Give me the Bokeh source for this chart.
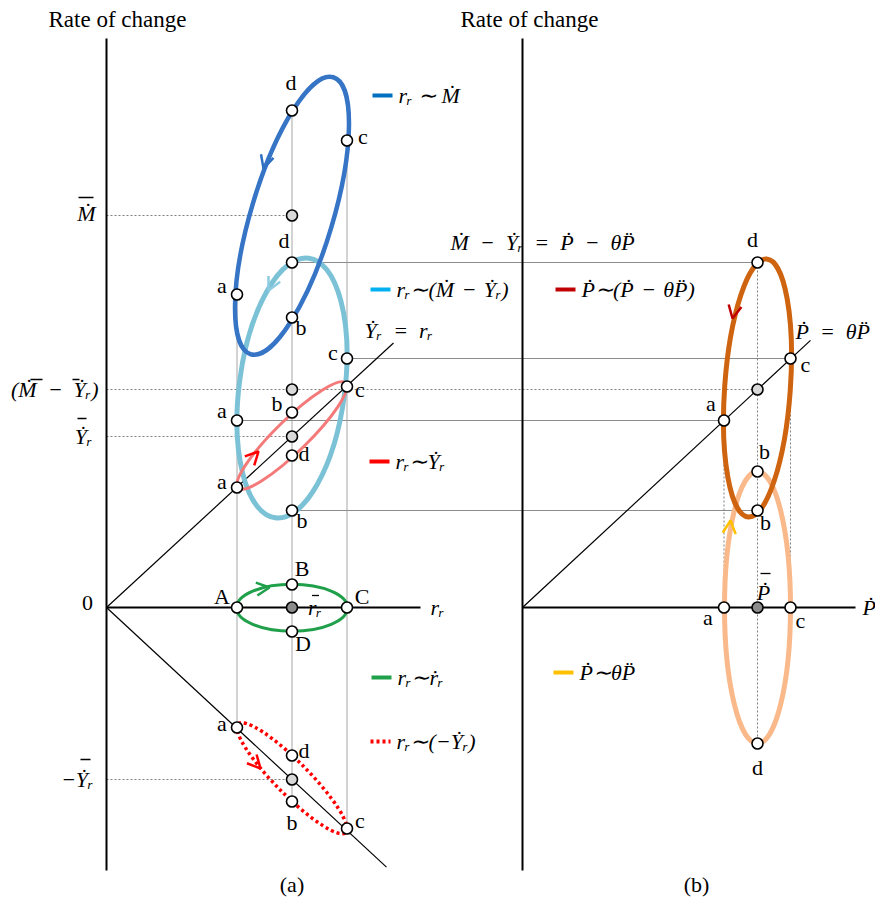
import numpy as np
from bokeh.plotting import figure
from bokeh.models import Range1d, Arrow, OpenHead
from bokeh.core.properties import value
from bokeh.embed import file_html
from bokeh.resources import INLINE

# ---------------------------------------------------------------------------
# Values. x: r_r in panel (a), P-dot in panel (b); y: rate of change.
# Phases of every loop are listed in the order a, b, c, d.
# ---------------------------------------------------------------------------
r_low, r_bar, r_high = 130.5, 185.5, 240.5          # r_r at a / mean / c
p_low, p_bar, p_high = 201.5, 235.0, 268.0          # P-dot at a / mean / c

M_bar = 392          # mean of M-dot
MY_bar = 218         # mean of (M-dot - Y-dot_r)
Y_bar = 171          # mean of Y-dot_r
negY_bar = -172      # mean of -Y-dot_r

M_dot = [313, 290, 467, 497]        # r_r ~ M-dot
MY_dot = [187, 97, 249, 345]        # r_r ~ (M-dot - Y-dot_r)
Y_dot = [120, 195, 221, 152]        # r_r ~ Y-dot_r
r_dot = [0, 23, 0, -24]             # r_r ~ r-dot_r   (A, B, C, D)
negY_dot = [-120, -194, -221, -148] # r_r ~ (-Y-dot_r)
P_gap = [187, 97, 249, 345]         # P-dot ~ (P-dot - theta P-ddot)
theta_P = [0, 136, 0, -136]         # P-dot ~ theta P-ddot

PHASE_R = [r_low, r_bar, r_high, r_bar]
PHASE_P = [p_low, p_bar, p_high, p_bar]

# ---------------------------------------------------------------------------
# Layout / styling
# ---------------------------------------------------------------------------
XB = 416                 # horizontal offset of panel (b)
AX_TOP, AX_BOT = 569, -263
MATH = "Liberation Serif"
SERIF = "Liberation Serif"
SP = "\u2002"            # wide space around operators
MINUS = SP + "\u2212" + SP
SP3 = "\u2004"           # narrower space used in the legends
MINUS3 = SP3 + "\u2212" + SP3

p = figure(width=875, height=900, x_range=Range1d(-106, 769), y_range=Range1d(-293, 607),
           output_backend="svg", toolbar_location=None, min_border=0)
p.axis.visible = False
p.grid.visible = False
p.outline_line_color = None
p.background_fill_color = "white"
p.border_fill_color = "white"

pb = [XB + v for v in PHASE_P]

# thin solid gray guides (panel a verticals)
p.segment(x0=[r_low, r_bar, r_high], y0=[M_dot[0], M_dot[3], M_dot[2]],
          x1=[r_low, r_bar, r_high], y1=[negY_dot[0], negY_dot[1], negY_dot[2]],
          line_color="#A6A6A6", line_width=1)
# horizontal links from (M-dot - Y-dot_r) to (P-dot - theta P-ddot)
p.segment(x0=PHASE_R, y0=MY_dot, x1=pb, y1=P_gap, line_color="#8C8C8C", line_width=1)

# dotted guides
p.segment(x0=[0, 0, 0, 0], y0=[M_bar, MY_bar, Y_bar, negY_bar],
          x1=[r_bar, XB + p_bar, r_bar, r_bar], y1=[M_bar, MY_bar, Y_bar, negY_bar],
          line_color="#7F7F7F", line_width=1, line_dash="2 2")
p.segment(x0=[XB + p_low, XB + p_bar, XB + p_high], y0=[P_gap[0], P_gap[3], P_gap[2]],
          x1=[XB + p_low, XB + p_bar, XB + p_high], y1=[theta_P[0], theta_P[3], theta_P[2]],
          line_color="#7F7F7F", line_width=1, line_dash="2 2")

# axes
p.segment(x0=[0, XB], y0=[AX_TOP, AX_TOP], x1=[0, XB], y1=[AX_BOT, AX_BOT],
          line_color="black", line_width=2)
p.segment(x0=[0, XB], y0=[0, 0], x1=[314, XB + 333], y1=[0, 0],
          line_color="black", line_width=2)
# 45-degree reference lines
k_a = Y_bar / r_bar
k_n = negY_bar / r_bar
k_b = MY_bar / p_bar
p.segment(x0=[0, 0, XB], y0=[0, 0, 0], x1=[287, 280, XB + 288],
          y1=[287 * k_a, 280 * k_n, 288 * k_b], line_color="black", line_width=1.2)

# ---------------------------------------------------------------------------
# Loops: half-width, half-height and covariance of each ellipse
# ---------------------------------------------------------------------------
def ellipse_shape(w, h, cov):
    vals, vecs = np.linalg.eigh(np.array([[w * w, cov], [cov, h * h]]))
    v = vecs[:, 1]
    return 2 * np.sqrt(vals[1]), 2 * np.sqrt(vals[0]), float(np.arctan2(v[1], v[0]))

loops = [
    # x centre, values, half-w, half-h, cov, colour, width, dash
    (r_bar, MY_dot, 55, 130, 1820, "#7CC2D7", 5, "solid"),
    (r_bar, M_dot, 57, 139, 5257, "#3674C6", 4.5, "solid"),
    (r_bar, Y_dot, 55, 53.7, 2695, "#F47A7A", 3, "solid"),
    (r_bar, r_dot, 55.5, 23.5, 0, "#20A04A", 3, "solid"),
    (r_bar, negY_dot, 55, 55.5, -2778, "#FF0000", 3.5, "3 3"),
    (XB + p_bar, theta_P, 33, 136, 0, "#F9B98A", 5, "solid"),
    (XB + p_bar, P_gap, 34, 129, 1100, "#CF6410", 5, "solid"),
]
for cx, vals, w, h, cov, col, lw, dash in loops:
    cy = float(np.mean(vals))
    width, height, ang = ellipse_shape(w, h, cov)
    p.ellipse(x=[cx], y=[cy], width=[width], height=[height], angle=[ang],
              fill_color=None, line_color=col, line_width=lw, line_dash=dash)

# direction arrows on the loops: tip and direction
arrows = [
    (157, 439, -0.3, -1, "#2F6FC2"),
    (162, 317, -0.5, -1, "#8CCBE0"),
    (152, 156, 1, 1.05, "#FF0000"),
    (163, 20, 1, 0.12, "#20A04A"),
    (154, -161, 1, -1.1, "#FF0000"),
    (XB + 210, 289, -0.2, -1, "#C00000"),
    (XB + 208, 87, 0.1, 1, "#FFC000"),
]
for tx, ty, dx, dy, col in arrows:
    n = np.hypot(dx, dy)
    p.add_layout(Arrow(end=OpenHead(size=13, line_color=col, line_width=2.5),
                       x_start=tx - 6 * dx / n, y_start=ty - 6 * dy / n, x_end=tx, y_end=ty,
                       line_alpha=0))

# ---------------------------------------------------------------------------
# Phase markers
# ---------------------------------------------------------------------------
mx = PHASE_R * 5 + pb * 2
my = M_dot + MY_dot + Y_dot + r_dot + negY_dot + P_gap + theta_P
p.scatter(x=mx, y=my, size=11, fill_color="white", line_color="black", line_width=1.6)
p.scatter(x=[r_bar, r_bar, r_bar, r_bar, XB + p_bar], y=[M_bar, MY_bar, Y_bar, negY_bar, MY_bar],
          size=11, fill_color="#D9D9D9", line_color="black", line_width=1.6)
p.scatter(x=[r_bar, XB + p_bar], y=[0, 0], size=11, fill_color="#8C8C8C",
          line_color="black", line_width=1.6)

# ---------------------------------------------------------------------------
# Text
# ---------------------------------------------------------------------------
def label(x, y, s, dx=0, dy=0, size="22px", font=SERIF, style="normal", align="center"):
    p.text(x=[x + dx], y=[y - dy], text=[s], text_font=value(font), text_font_size=size,
           text_font_style=style, text_align=align, text_baseline="middle", text_color="black")

def mlabel(x, y, s, dx=0, dy=0, align="left", size="22px"):
    label(x, y, s, dx, dy, size=size, font=MATH, style="italic", align=align)

def overbar(x, y, dx0, dx1, dy):
    # mean bar drawn above a symbol whose label is anchored at (x, y)
    p.segment(x0=[x + dx0], y0=[y - dy], x1=[x + dx1], y1=[y - dy],
              line_color="black", line_width=1.3)

def phase_labels(xs, ys, names, offs):
    for x, y, n, (dx, dy) in zip(xs, ys, names, offs):
        label(x, y, n, dx, dy)

abcd = ["a", "b", "c", "d"]
phase_labels(PHASE_R, M_dot, abcd, [(-15, -9), (9, 10), (16, -4), (-1, -28)])
phase_labels(PHASE_R, MY_dot, abcd, [(-15, -10), (10, 10), (-14, -6), (-8, -22)])
phase_labels(PHASE_R, Y_dot, abcd, [(-15, -6), (-15, -9), (13, 3), (12, -2)])
phase_labels(PHASE_R, r_dot, ["A", "B", "C", "D"], [(-15, -11), (10, -16), (15, -11), (11, 12)])
phase_labels(PHASE_R, negY_dot, abcd, [(-15, -4), (0, 21), (13, -8), (12, -5)])
phase_labels(pb, P_gap, abcd, [(-13, -17), (8, 12), (15, 6), (-5, -23)])
phase_labels(pb, theta_P, abcd, [(-16, 10), (7, -20), (10, 13), (0, 24)])

# axis titles
label(11, AX_TOP + 19, "Rate of change", size="23px")
label(XB + 7, AX_TOP + 19, "Rate of change", size="23px")
label(-19, 0, "0", 0, -5)

# rate-axis levels (right-aligned beside the vertical axis)
mlabel(-11, M_bar, "\u1E40", dy=-2, align="right")
overbar(-11, M_bar, -17, -2, -18)
mlabel(-8, MY_bar, "(\u1E40" + MINUS + "\u1E8E\u1D63)", align="right")
overbar(-8, MY_bar, -68, -56, -10)
overbar(-8, MY_bar, -26, -19, -10)
mlabel(-14, Y_bar, "\u1E8E\u1D63", align="right")
overbar(-14, Y_bar, -15, -6, -18)
mlabel(-13, negY_bar, "\u2212\u1E8E\u1D63", align="right")
overbar(-13, negY_bar, -13, -3, -20)

# mean markers on the horizontal axes
mlabel(r_bar, 0, "r\u1D63", 16, 0)
overbar(r_bar, 0, 20, 27, -12)
mlabel(XB + p_bar, 0, "\u1E56", 6, -15, align="center")
overbar(XB + p_bar, 0, 3, 13, -34)

# axis names
mlabel(324, 0, "r\u1D63")
mlabel(XB + 340, 0, "\u1E56")

# identities
mlabel(258, 277, "\u1E8E\u1D63" + SP + "=" + SP + "r\u1D63")
mlabel(XB + 273, 276, "\u1E56" + SP + "=" + SP + "\u03B8P\u0308")
mlabel(344, 365, "\u1E40" + MINUS + "\u1E8E\u1D63" + SP + "=" + SP + "\u1E56" + MINUS + "\u03B8P\u0308")

# legends
legend_items = [
    (266, 512, "#0070C0", "solid", "r\u1D63 \u223C \u1E40"),
    (264, 318, "#00B0F0", "solid", "r\u1D63\u223C(\u1E40" + MINUS3 + "\u1E8E\u1D63)"),
    (449, 318, "#C00000", "solid", "\u1E56\u223C(\u1E56" + MINUS3 + "\u03B8P\u0308)"),
    (263, 146, "#FF0000", "solid", "r\u1D63\u223C\u1E8E\u1D63"),
    (265, -70, "#20A04A", "solid", "r\u1D63\u223C\u1E59\u1D63"),
    (264, -134, "#FF0000", "3 3", "r\u1D63\u223C(\u2212\u1E8E\u1D63)"),
    (447, -65, "#FFC000", "solid", "\u1E56\u223C\u03B8P\u0308"),
]
for x0, y0, col, dash, txt in legend_items:
    p.segment(x0=[x0], y0=[y0], x1=[x0 + 20], y1=[y0], line_color=col, line_width=4,
              line_dash=dash)
    mlabel(x0 + 26, y0, txt)

label(r_bar, -277, "(a)")
label(XB + 174, -277, "(b)")

open("out.html", "w").write(file_html(p, INLINE))
